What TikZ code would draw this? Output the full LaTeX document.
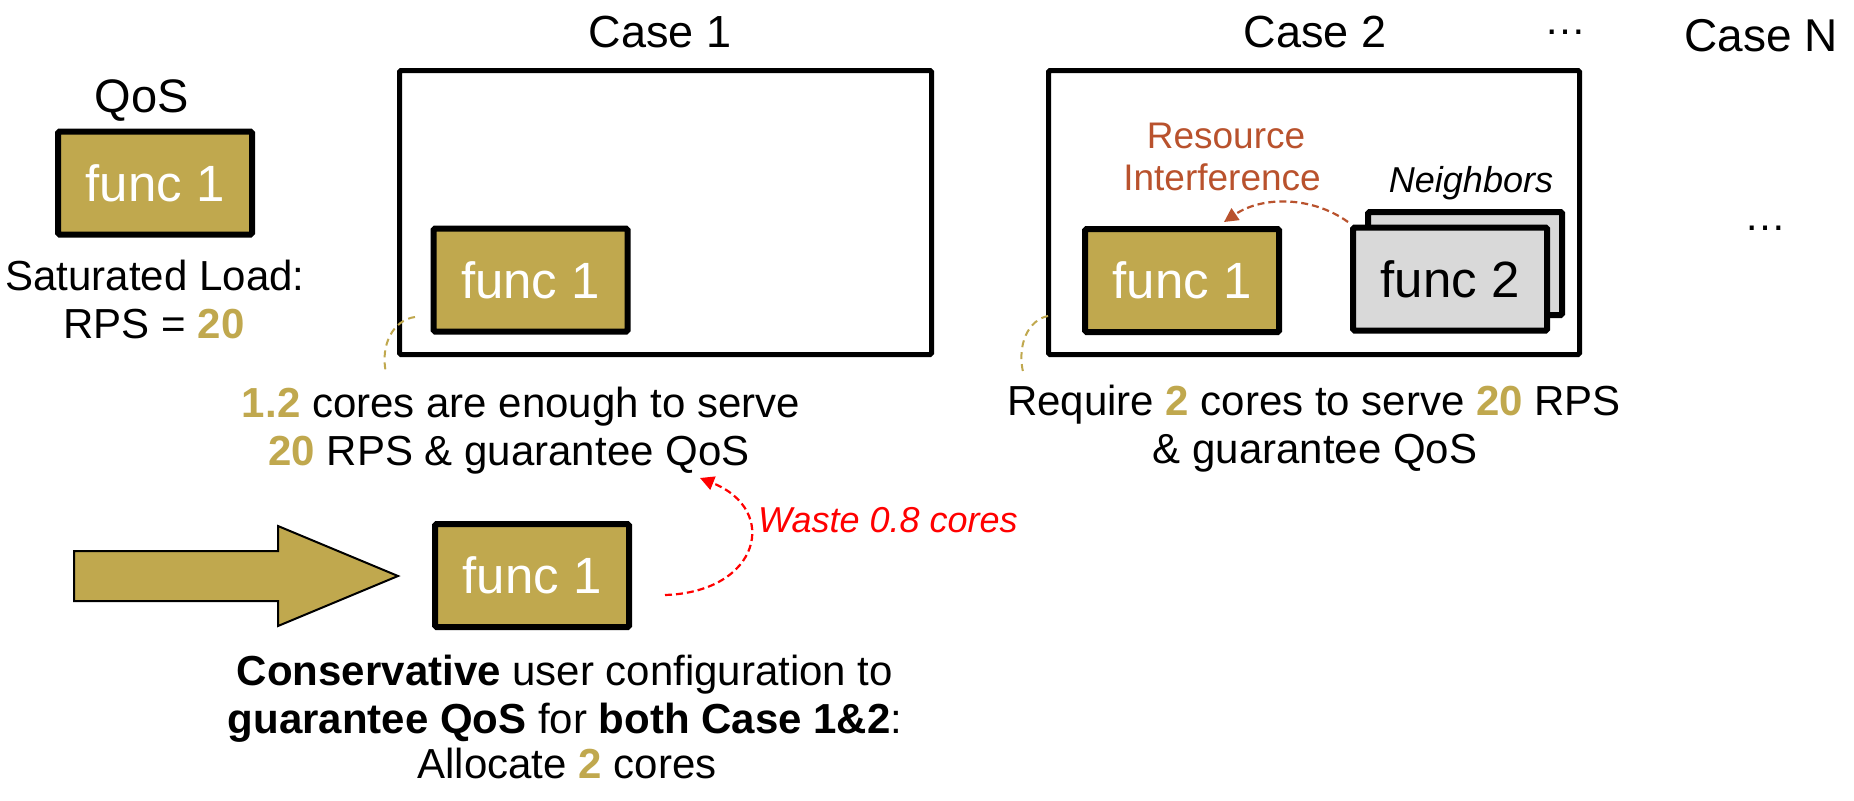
\documentclass[tikz,border=0pt]{standalone}
\usepackage{fontspec}
\setmainfont{Liberation Sans}
\usetikzlibrary{arrows.meta}
\definecolor{gold}{RGB}{192,168,78}
\definecolor{rust}{RGB}{185,82,45}
\definecolor{lgray}{RGB}{217,217,217}
\definecolor{wred}{RGB}{255,0,0}
\newcommand{\gd}[1]{\textbf{\color{gold}#1}}
\begin{document}
\begin{tikzpicture}[x=1pt,y=-1pt,
  bigbox/.style={draw=black, line width=5pt, rounded corners=1.5pt, inner sep=0pt},
  funcbox/.style={draw=black, line width=6pt, rounded corners=1.5pt, fill=gold, text=white,
    minimum width=194pt, minimum height=103pt, inner sep=0pt, font=\fontsize{51}{60}\selectfont},
  nbbox/.style={funcbox, fill=lgray, text=black},
  txt/.style={anchor=base, inner sep=0pt, font=\fontsize{42}{48}\selectfont},
  ttl/.style={anchor=base, inner sep=0pt, font=\fontsize{45}{50}\selectfont},
  goldarc/.style={draw=gold, line width=2pt, dash pattern=on 7pt off 5pt},
]
\useasboundingbox (0,0) rectangle (1854,800);
\fill[white] (0,0) rectangle (1854,800);

% titles
\node[ttl] (t1) at (660,48) {Case 1};
\node[ttl] (t2) at (1315,48) {Case 2};
\node[ttl, font=\fontsize{46}{50}\selectfont] (tn) at (1761,52) {Case N};
\node[inner sep=0pt, font=\fontsize{42}{48}\selectfont] (d1) at (1565,32) {…};
\node[inner sep=0pt, font=\fontsize{42}{48}\selectfont] (d2) at (1765,228) {…};

% QoS reference
\node[ttl, font=\fontsize{47}{50}\selectfont] (qos) at (142,112) {QoS};
\node[funcbox] (q1) at (155,183) {func 1};
\node[txt] (sl1) at (155,290) {Saturated Load:};
\node[txt] (sl2) at (154,338) {RPS = \gd{20}};

% Case 1
\node[bigbox, minimum width=532pt, minimum height=284pt] (c1) at (665.5,212.5) {};
\node[funcbox] (c1f) at (530.5,280) {func 1};
\node[txt] (c1a) at (521,417) {\gd{1.2} cores are enough to serve};
\node[txt] (c1b) at (509,465) {\gd{20} RPS \& guarantee QoS};
\coordinate (g1s) at (415,317);
\coordinate (g1e) at (386,373);
\draw[goldarc] (g1s) .. controls (393,320) and (380,345) .. (g1e);

% Case 2
\node[bigbox, minimum width=531pt, minimum height=284pt] (c2) at (1314,212.5) {};
\node[funcbox] (c2f) at (1182,280.5) {func 1};
\node[nbbox] (f2b) at (1465,263.5) {};
\node[nbbox] (f2) at (1450,279) {func 2};
\node[anchor=base, inner sep=0pt, font=\fontsize{36}{40}\selectfont\itshape] (nb) at (1471,192) {Neighbors};
\node[anchor=base, inner sep=0pt, text=rust, font=\fontsize{37}{42}\selectfont] (ri1) at (1226,148) {Resource};
\node[anchor=base, inner sep=0pt, text=rust, font=\fontsize{37}{42}\selectfont] (ri2) at (1222,190) {Interference};
\coordinate (ris) at (1348,222);
\coordinate (rie) at (1224,222);
\draw[rust, line width=2.2pt, dash pattern=on 7pt off 4pt, -{Triangle[length=14pt,width=14pt]}]
  (ris) .. controls (1312,196) and (1262,196) .. (rie);
\node[txt] (c2a) at (1314,415) {Require \gd{2} cores to serve \gd{20} RPS};
\node[txt] (c2b) at (1315,463) {\& guarantee QoS};
\coordinate (g2s) at (1048,316);
\coordinate (g2e) at (1023,372);
\draw[goldarc] (g2s) .. controls (1028,320) and (1017,345) .. (g2e);

% bottom
\draw[fill=gold, draw=black, line width=2pt, line join=miter]
  (74,551) -- (278,551) -- (278,526) -- (398,576) -- (278,626) -- (278,601) -- (74,601) -- cycle;
\node[funcbox] (bf) at (532,575.5) {func 1};
\coordinate (ws) at (665,595);
\coordinate (we) at (700,478);
\draw[wred, line width=2.2pt, dash pattern=on 7pt off 4pt, -{Triangle[length=14pt,width=14pt]}]
  (ws) .. controls (760,592) and (780,510) .. (we);
\node[anchor=base west, inner sep=0pt, text=wred, font=\fontsize{36}{40}\selectfont\itshape] (waste) at (758,532) {Waste 0.8 cores};
\node[txt] (b1) at (565,685) {\textbf{Conservative} user configuration to};
\node[txt] (b2) at (565,733) {\textbf{guarantee QoS} for \textbf{both Case 1\&2}:};
\node[txt] (b3) at (567,778) {Allocate \gd{2} cores};
\end{tikzpicture}
\end{document}
